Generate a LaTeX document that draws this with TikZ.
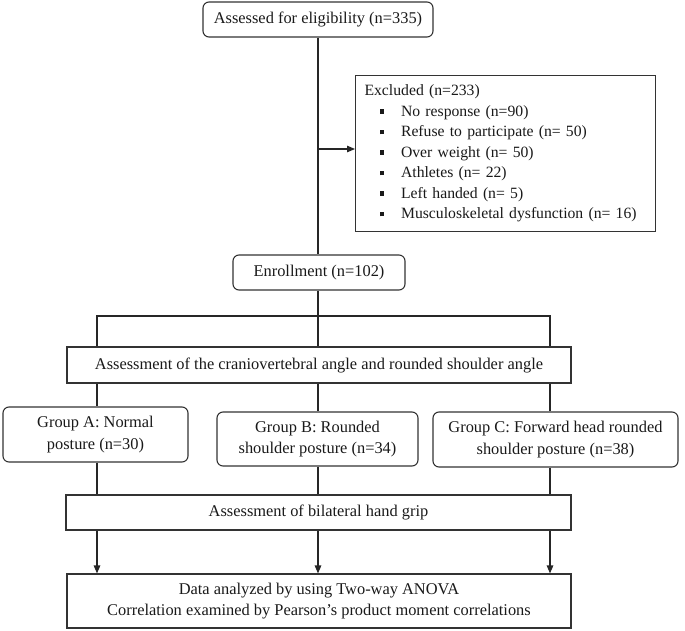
\documentclass[tikz,border=0pt]{standalone}
\usepackage{fontspec}
\setmainfont{Liberation Serif}
\usetikzlibrary{arrows.meta}
\newcommand{\sqitem}{\hspace*{15pt}\raisebox{2.5pt}{\rule{4.5pt}{4.5pt}}\hspace*{17pt}}
\begin{document}
\begin{tikzpicture}[x=1pt,y=-1pt,
  every node/.style={font=\fontsize{16.4}{21.5}\selectfont, text=black!90},
  rbox/.style={draw=black!80, line width=1.1pt, rounded corners=6pt, align=center, inner sep=0pt},
  sbox/.style={draw=black!80, line width=1.1pt, align=center, inner sep=0pt},
  conn/.style={draw=black!85, line width=1.2pt},
  arr/.style={conn, -{Triangle[length=8pt,width=6.5pt]}}]
\useasboundingbox (0,0) rectangle (685,631);
\node[rbox, minimum width=230pt, minimum height=35pt] (elig) at (318,19.5) {Assessed for eligibility (n=335)};
\node[sbox, anchor=north west, minimum width=300pt, minimum height=156pt, text width=282pt, align=left, inner xsep=9pt, inner ysep=0pt, font=\fontsize{15.7}{20.5}\selectfont] (excl) at (355,75) {Excluded (n=233)\\
\sqitem No response (n=90)\\
\sqitem Refuse to participate (n= 50)\\
\sqitem Over weight (n= 50)\\
\sqitem Athletes (n= 22)\\
\sqitem Left handed (n= 5)\\
\sqitem Musculoskeletal dysfunction (n= 16)};
\node[rbox, minimum width=172pt, minimum height=35pt] (enr) at (319,272.5) {Enrollment (n=102)};
\node[sbox, minimum width=504pt, minimum height=36pt] (as1) at (319,365) {Assessment of the craniovertebral angle and rounded shoulder angle};
\node[rbox, minimum width=185pt, minimum height=55pt] (ga) at (95.5,434.5) {Group A: Normal\\posture (n=30)};
\node[rbox, minimum width=201pt, minimum height=54pt] (gb) at (317.5,439) {Group B: Rounded\\shoulder posture (n=34)};
\node[rbox, minimum width=245pt, minimum height=55pt] (gc) at (555.5,439.5) {Group C: Forward head rounded\\shoulder posture (n=38)};
\node[sbox, minimum width=505pt, minimum height=35pt] (as2) at (318.5,512.5) {Assessment of bilateral hand grip};
\node[sbox, minimum width=504pt, minimum height=54pt] (fin) at (319,601) {Data analyzed by using Two-way ANOVA\\Correlation examined by Pearson’s product moment correlations};
\coordinate (xa) at (97,0);
\coordinate (xb) at (318,0);
\coordinate (xc) at (550,0);
\coordinate (hy) at (0,316);
\coordinate (ay) at (0,149);
\draw[conn] (elig.south -| xb) -- (enr.north -| xb);
\draw[arr] (ay -| xb) -- (ay -| excl.west);
\draw[conn] (enr.south -| xb) -- (as1.north -| xb);
\draw[conn] (xa |- as1.north) -- (xa |- hy) -- (xc |- hy) -- (xc |- as1.north);
\foreach \c/\g in {xa/ga, xb/gb, xc/gc} {
  \draw[conn] (as1.south -| \c) -- (\g.north -| \c);
  \draw[conn] (\g.south -| \c) -- (as2.north -| \c);
  \draw[arr] (as2.south -| \c) -- (fin.north -| \c);
}
\end{tikzpicture}
\end{document}
